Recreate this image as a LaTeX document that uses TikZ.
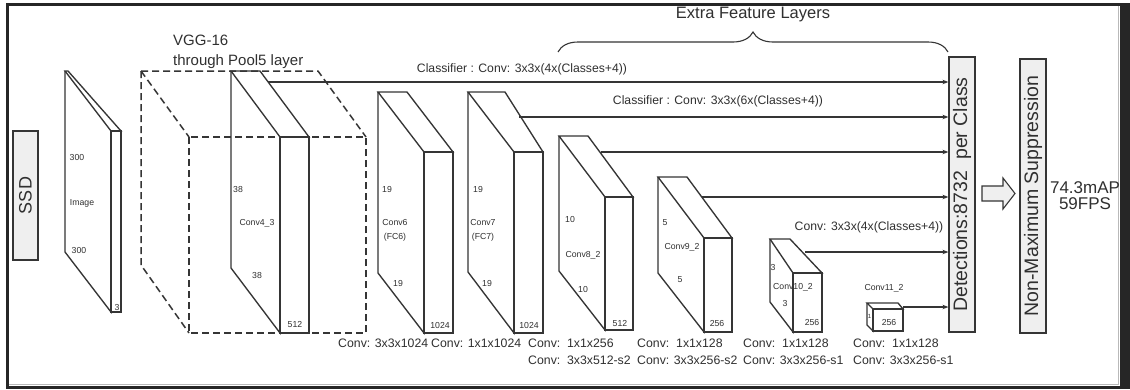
\documentclass[tikz,border=0pt]{standalone}
\usepackage{fontspec}
\setmainfont{Liberation Sans}
\usetikzlibrary{arrows.meta,decorations.pathreplacing}
\definecolor{ink}{HTML}{353535}
\definecolor{txt}{HTML}{303030}
\definecolor{boxfill}{HTML}{EFEFEF}
\definecolor{framec}{HTML}{262626}
\newcommand{\fsz}[1]{\fontsize{#1}{#1}\selectfont}
% Ax Ay Bx Cx Cy Dx Bottom BackBottom
\newcommand{\ssdcube}[8]{%
  \draw[cube] (#1,#2) -- (#3,#2) -- (#6,#5) -- (#4,#5) -- cycle;
  \draw[cube] (#1,#2) -- (#1,#8) -- (#4,#7) -- (#4,#5);
  \draw[cube] (#4,#5) rectangle (#6,#7);
}
\begin{document}
\begin{tikzpicture}[x=1pt,y=-1pt,
  cube/.style={draw=ink,line width=1.35pt,line join=miter},
  dashbox/.style={draw=ink,line width=1.5pt,dash pattern=on 7pt off 4pt},
  graybox/.style={draw=ink,fill=boxfill,line width=1.2pt,inner sep=0pt,text=txt},
  arr/.style={draw=ink,line width=1.2pt,-{Stealth[length=6pt,width=4.5pt]}},
  small/.style={text=txt,inner sep=0pt,font=\fsz{8.7}},
  lbl/.style={text=txt,inner sep=0pt,font=\fsz{12.3},anchor=west},
  clab/.style={text=txt,inner sep=0pt,font=\fsz{12.2}}]
\useasboundingbox (0,0) rectangle (1130,389);
% frame
\fill[framec] (6,3) rectangle (1130,389);
\fill[white] (9,6) rectangle (1120,386);
\draw[gray!55,line width=1pt] (1118.5,6) -- (1118.5,384.5) -- (9,384.5);

% SSD box
\node[graybox,minimum width=129pt,minimum height=25pt,rotate=90,font=\fsz{18}] (ssd) at (25.5,195.5) {SSD};

% VGG dashed box
\draw[dashbox] (141,71) -- (318,71) -- (366,137);
\draw[dashbox] (141,71) -- (189,137);
\draw[dashbox] (141,71) -- (141,265) -- (189,333);
\draw[dashbox] (189,137) rectangle (366,333);
\node[text=txt,inner sep=0pt,anchor=west,font=\fsz{15}] (vgg1) at (173,40) {VGG-16};
\node[text=txt,inner sep=0pt,anchor=west,font=\fsz{15}] (vgg2) at (173,62) {through Pool5 layer};

% cuboids
\ssdcube{65}{71}{68}{111}{131}{121}{312}{252}
\ssdcube{231}{71}{260}{280}{137}{309}{333}{268}
\ssdcube{378}{92}{407}{424}{152}{453}{333}{273}
\ssdcube{468}{92}{505}{514}{152}{543}{333}{272}
\ssdcube{559}{136}{588}{605}{197}{633}{330}{271}
\ssdcube{658}{177}{687}{704}{238}{732}{332}{273}
\ssdcube{770}{239}{790}{793}{273}{822}{332}{302}
\ssdcube{867}{303}{898}{873}{309}{903}{331}{325}

% dimension labels
\node[small] (i1) at (77,158) {300};
\node[small] (i2) at (82,203) {Image};
\node[small] (i3) at (79,250) {300};
\node[small] (i4) at (117,307) {3};
\node[small] (a1) at (238,189) {38};
\node[small] (a2) at (257,223) {Conv4\_3};
\node[small] (a3) at (257,275) {38};
\node[small] (a4) at (295,324) {512};
\node[small] (b1) at (387,189) {19};
\node[small] (b2) at (395,223) {Conv6};
\node[small] (b3) at (395,237) {(FC6)};
\node[small] (b4) at (398,283) {19};
\node[small] (b5) at (440,325) {1024};
\node[small] (c1) at (478,189) {19};
\node[small] (c2) at (483,223) {Conv7};
\node[small] (c3) at (483,237) {(FC7)};
\node[small] (c4) at (487,283) {19};
\node[small] (c5) at (529,325) {1024};
\node[small] (d1) at (570,219) {10};
\node[small] (d2) at (583,255) {Conv8\_2};
\node[small] (d3) at (583,289) {10};
\node[small] (d4) at (620,323) {512};
\node[small] (e1) at (665,223) {5};
\node[small] (e2) at (682,247) {Conv9\_2};
\node[small] (e3) at (680,280) {5};
\node[small] (e4) at (717,323) {256};
\node[small] (f1) at (773,267) {3};
\node[small] (f2) at (793,287) {Conv10\_2};
\node[small] (f3) at (785,303) {3};
\node[small] (f4) at (812,322) {256};
\node[small] (g1) at (884,288) {Conv11\_2};
\node[small] (g2) at (889,322) {256};
\node[small,font=\fsz{6}] (g3) at (869.5,316) {1};

% detection & NMS boxes
\node[graybox,minimum width=275pt,minimum height=26pt,rotate=90,font=\fsz{19.5}] (det) at (962,194.5) {Detections:8732\ \ per Class};
\node[graybox,minimum width=274pt,minimum height=26pt,rotate=90,font=\fsz{19.5}] (nms) at (1033,196) {Non-Maximum Suppression};
\draw[draw=ink,fill=boxfill,line width=1.1pt] (982,186) -- (1003,186) -- (1003,178) -- (1015,193.5) -- (1003,209) -- (1003,201) -- (982,201) -- cycle;
\node[text=txt,inner sep=0pt,align=center,font=\fsz{17}] (res) at (1085,196) {74.3mAP\\[-1pt]59FPS};

% classifier arrows
\coordinate (s1) at (268,82);
\coordinate (s2) at (519,117);
\coordinate (s3) at (601,152);
\coordinate (s4) at (702,197);
\coordinate (s5) at (805,252);
\coordinate (s6) at (903,307);
\draw[arr] (s1) -- (s1 -| det.north);
\draw[arr] (s2) -- (s2 -| det.north);
\draw[arr] (s3) -- (s3 -| det.north);
\draw[arr] (s4) -- (s4 -| det.north);
\draw[arr] (s5) -- (s5 -| det.north);
\draw[arr] (s6) -- (s6 -| det.north);
\node[clab] (cl1) at (522,69) {Classifier : Conv: 3x3x(4x(Classes+4))};
\node[clab] (cl2) at (718,101) {Classifier : Conv: 3x3x(6x(Classes+4))};
\node[clab] (cl3) at (869,227) {Conv: 3x3x(4x(Classes+4))};

% extra feature layers brace
\draw[ink,line width=1.1pt,decorate,decoration={brace,amplitude=20pt}] (558,52) -- (948,52);
\node[text=txt,inner sep=0pt,font=\fsz{16.5}] (efl) at (753,15) {Extra Feature Layers};

% bottom labels
\node[lbl] (l1) at (338,343) {Conv: 3x3x1024};
\node[lbl] (l2) at (431,343) {Conv: 1x1x1024};
\node[lbl] (l3) at (528,343) {Conv:\ \ 1x1x256};
\node[lbl] (l4) at (528,360) {Conv:\ \ 3x3x512-s2};
\node[lbl] (l5) at (637,343) {Conv:\ \ 1x1x128};
\node[lbl] (l6) at (637,360) {Conv: 3x3x256-s2};
\node[lbl] (l7) at (743,343) {Conv:\ \ 1x1x128};
\node[lbl] (l8) at (743,360) {Conv: 3x3x256-s1};
\node[lbl] (l9) at (853,343) {Conv:\ \ 1x1x128};
\node[lbl] (l10) at (853,360) {Conv: 3x3x256-s1};
\end{tikzpicture}
\end{document}
